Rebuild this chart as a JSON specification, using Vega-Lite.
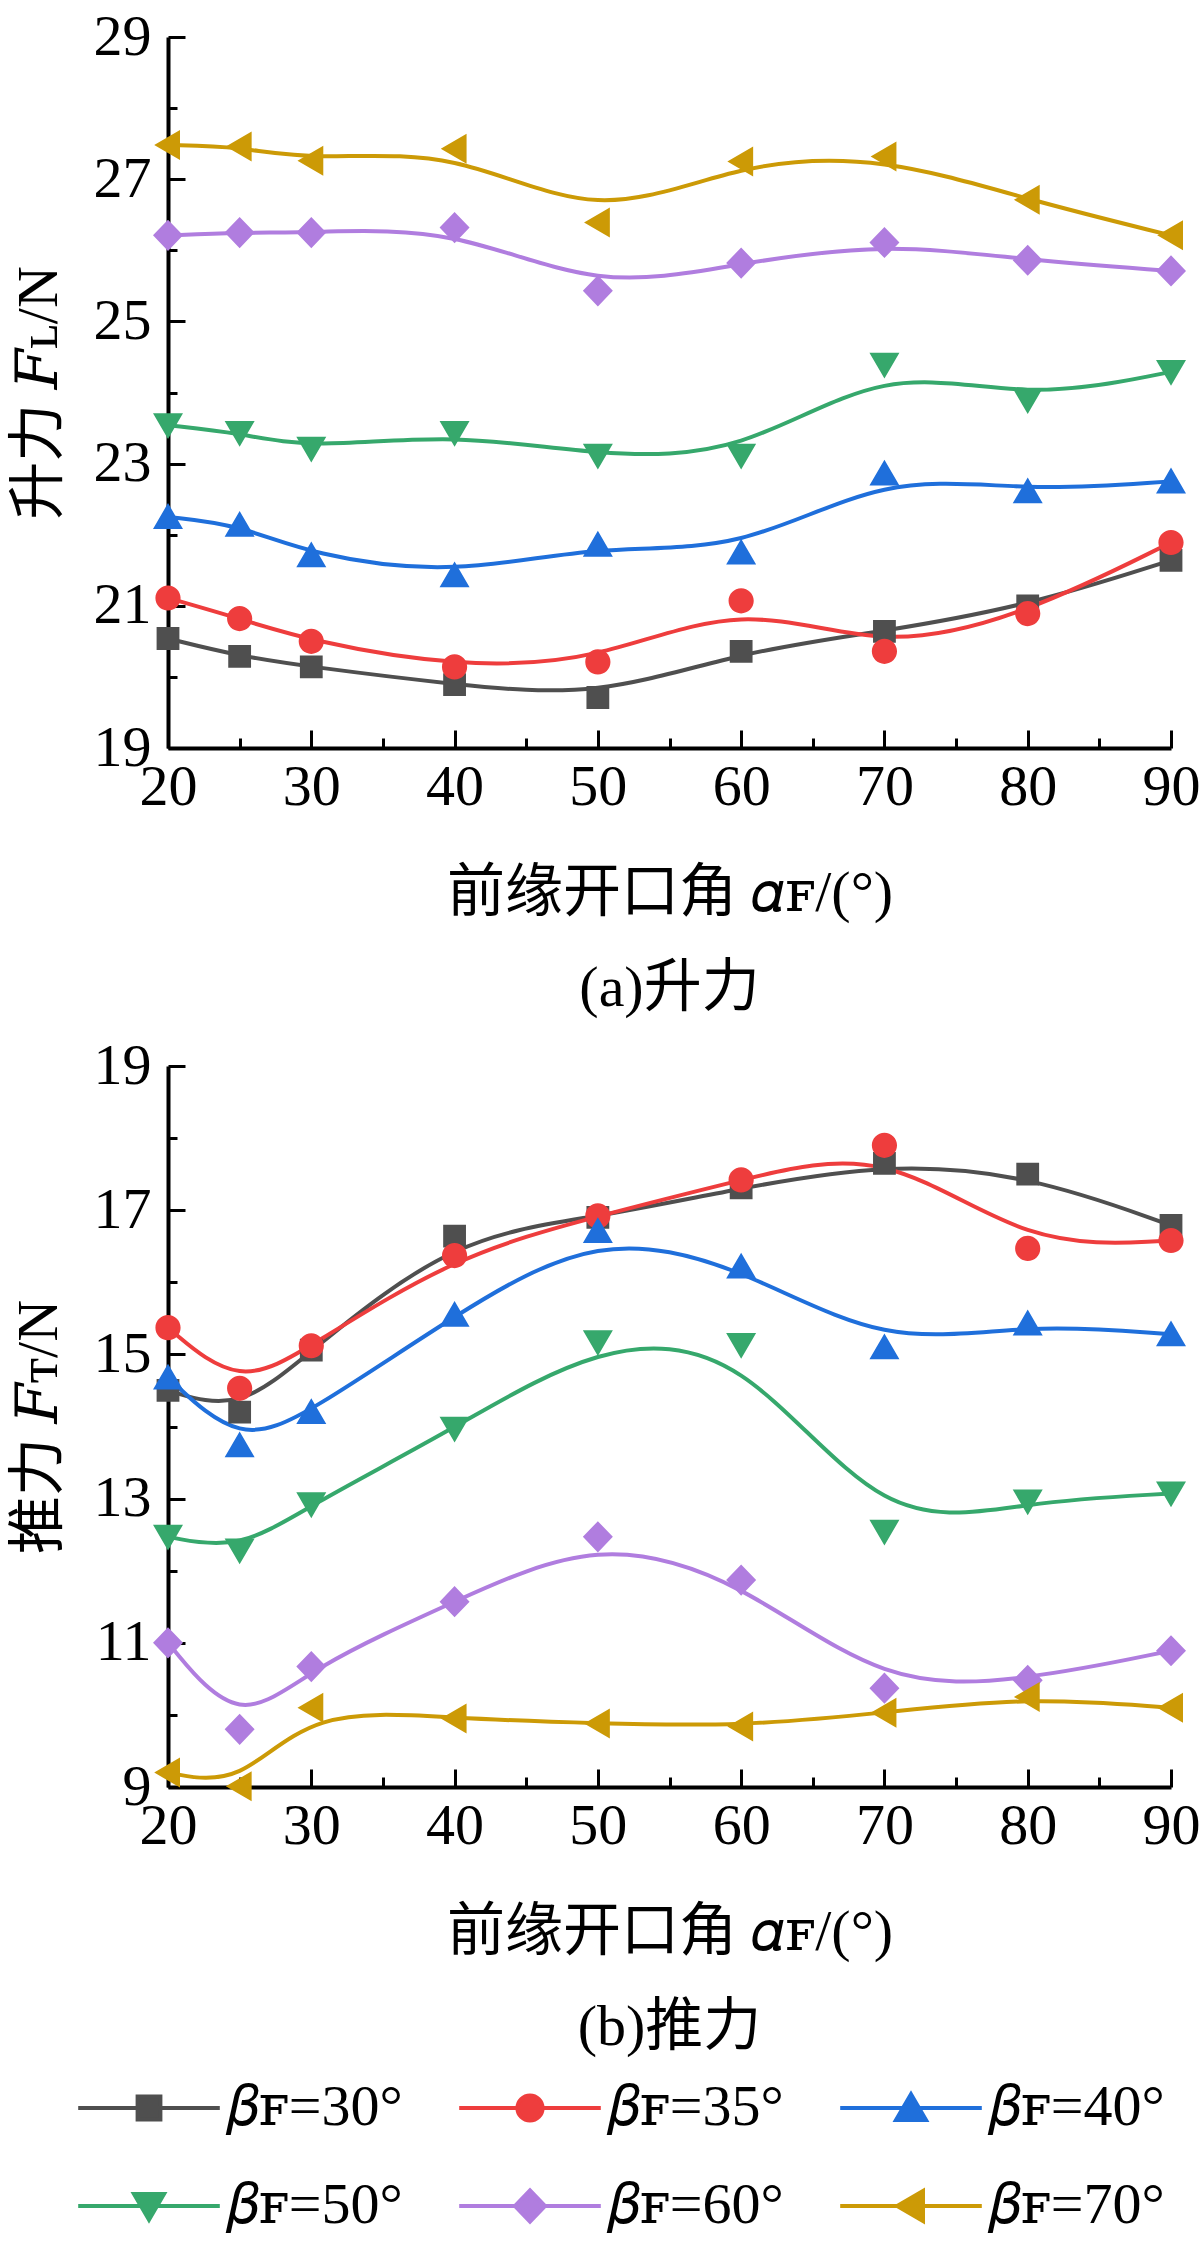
{
  "$schema": "https://vega.github.io/schema/vega-lite/v6.json",
  "padding": {"left": 10, "top": 8, "right": 0, "bottom": 0},
  "background": "white",
  "datasets": {
    "lift": [
      {"a":20,"s":"𝛽ꜰ=30°","v":20.54},{"a":25,"s":"𝛽ꜰ=30°","v":20.29},{"a":30,"s":"𝛽ꜰ=30°","v":20.14},{"a":40,"s":"𝛽ꜰ=30°","v":19.89},{"a":50,"s":"𝛽ꜰ=30°","v":19.71},{"a":60,"s":"𝛽ꜰ=30°","v":20.36},{"a":70,"s":"𝛽ꜰ=30°","v":20.64},{"a":80,"s":"𝛽ꜰ=30°","v":21.0},{"a":90,"s":"𝛽ꜰ=30°","v":21.64},
      {"a":20,"s":"𝛽ꜰ=35°","v":21.11},{"a":25,"s":"𝛽ꜰ=35°","v":20.82},{"a":30,"s":"𝛽ꜰ=35°","v":20.5},{"a":40,"s":"𝛽ꜰ=35°","v":20.14},{"a":50,"s":"𝛽ꜰ=35°","v":20.21},{"a":60,"s":"𝛽ꜰ=35°","v":21.07},{"a":70,"s":"𝛽ꜰ=35°","v":20.36},{"a":80,"s":"𝛽ꜰ=35°","v":20.89},{"a":90,"s":"𝛽ꜰ=35°","v":21.89},
      {"a":20,"s":"𝛽ꜰ=40°","v":22.25},{"a":25,"s":"𝛽ꜰ=40°","v":22.14},{"a":30,"s":"𝛽ꜰ=40°","v":21.71},{"a":40,"s":"𝛽ꜰ=40°","v":21.43},{"a":50,"s":"𝛽ꜰ=40°","v":21.86},{"a":60,"s":"𝛽ꜰ=40°","v":21.75},{"a":70,"s":"𝛽ꜰ=40°","v":22.86},{"a":80,"s":"𝛽ꜰ=40°","v":22.61},{"a":90,"s":"𝛽ꜰ=40°","v":22.75},
      {"a":20,"s":"𝛽ꜰ=50°","v":23.54},{"a":25,"s":"𝛽ꜰ=50°","v":23.43},{"a":30,"s":"𝛽ꜰ=50°","v":23.21},{"a":40,"s":"𝛽ꜰ=50°","v":23.43},{"a":50,"s":"𝛽ꜰ=50°","v":23.11},{"a":60,"s":"𝛽ꜰ=50°","v":23.11},{"a":70,"s":"𝛽ꜰ=50°","v":24.39},{"a":80,"s":"𝛽ꜰ=50°","v":23.89},{"a":90,"s":"𝛽ꜰ=50°","v":24.29},
      {"a":20,"s":"𝛽ꜰ=60°","v":26.21},{"a":25,"s":"𝛽ꜰ=60°","v":26.25},{"a":30,"s":"𝛽ꜰ=60°","v":26.25},{"a":40,"s":"𝛽ꜰ=60°","v":26.32},{"a":50,"s":"𝛽ꜰ=60°","v":25.43},{"a":60,"s":"𝛽ꜰ=60°","v":25.82},{"a":70,"s":"𝛽ꜰ=60°","v":26.11},{"a":80,"s":"𝛽ꜰ=60°","v":25.86},{"a":90,"s":"𝛽ꜰ=60°","v":25.71},
      {"a":20,"s":"𝛽ꜰ=70°","v":27.48},{"a":25,"s":"𝛽ꜰ=70°","v":27.46},{"a":30,"s":"𝛽ꜰ=70°","v":27.26},{"a":40,"s":"𝛽ꜰ=70°","v":27.43},{"a":50,"s":"𝛽ꜰ=70°","v":26.39},{"a":60,"s":"𝛽ꜰ=70°","v":27.25},{"a":70,"s":"𝛽ꜰ=70°","v":27.32},{"a":80,"s":"𝛽ꜰ=70°","v":26.71},{"a":90,"s":"𝛽ꜰ=70°","v":26.21}
    ],
    "thrust": [
      {"a":20,"s":"𝛽ꜰ=30°","v":14.5},{"a":25,"s":"𝛽ꜰ=30°","v":14.2},{"a":30,"s":"𝛽ꜰ=30°","v":15.06},{"a":40,"s":"𝛽ꜰ=30°","v":16.64},{"a":50,"s":"𝛽ꜰ=30°","v":16.9},{"a":60,"s":"𝛽ꜰ=30°","v":17.31},{"a":70,"s":"𝛽ꜰ=30°","v":17.65},{"a":80,"s":"𝛽ꜰ=30°","v":17.5},{"a":90,"s":"𝛽ꜰ=30°","v":16.79},
      {"a":20,"s":"𝛽ꜰ=35°","v":15.37},{"a":25,"s":"𝛽ꜰ=35°","v":14.53},{"a":30,"s":"𝛽ꜰ=35°","v":15.12},{"a":40,"s":"𝛽ꜰ=35°","v":16.37},{"a":50,"s":"𝛽ꜰ=35°","v":16.92},{"a":60,"s":"𝛽ꜰ=35°","v":17.42},{"a":70,"s":"𝛽ꜰ=35°","v":17.9},{"a":80,"s":"𝛽ꜰ=35°","v":16.47},{"a":90,"s":"𝛽ꜰ=35°","v":16.58},
      {"a":20,"s":"𝛽ꜰ=40°","v":14.68},{"a":25,"s":"𝛽ꜰ=40°","v":13.74},{"a":30,"s":"𝛽ꜰ=40°","v":14.2},{"a":40,"s":"𝛽ꜰ=40°","v":15.55},{"a":50,"s":"𝛽ꜰ=40°","v":16.71},{"a":60,"s":"𝛽ꜰ=40°","v":16.22},{"a":70,"s":"𝛽ꜰ=40°","v":15.1},{"a":80,"s":"𝛽ꜰ=40°","v":15.43},{"a":90,"s":"𝛽ꜰ=40°","v":15.28},
      {"a":20,"s":"𝛽ꜰ=50°","v":12.47},{"a":25,"s":"𝛽ꜰ=50°","v":12.28},{"a":30,"s":"𝛽ꜰ=50°","v":12.92},{"a":40,"s":"𝛽ꜰ=50°","v":13.97},{"a":50,"s":"𝛽ꜰ=50°","v":15.17},{"a":60,"s":"𝛽ꜰ=50°","v":15.13},{"a":70,"s":"𝛽ꜰ=50°","v":12.54},{"a":80,"s":"𝛽ꜰ=50°","v":12.96},{"a":90,"s":"𝛽ꜰ=50°","v":13.07},
      {"a":20,"s":"𝛽ꜰ=60°","v":11.0},{"a":25,"s":"𝛽ꜰ=60°","v":9.8},{"a":30,"s":"𝛽ꜰ=60°","v":10.67},{"a":40,"s":"𝛽ꜰ=60°","v":11.57},{"a":50,"s":"𝛽ꜰ=60°","v":12.47},{"a":60,"s":"𝛽ꜰ=60°","v":11.87},{"a":70,"s":"𝛽ꜰ=60°","v":10.37},{"a":80,"s":"𝛽ꜰ=60°","v":10.48},{"a":90,"s":"𝛽ꜰ=60°","v":10.89},
      {"a":20,"s":"𝛽ꜰ=70°","v":9.2},{"a":25,"s":"𝛽ꜰ=70°","v":9.01},{"a":30,"s":"𝛽ꜰ=70°","v":10.1},{"a":40,"s":"𝛽ꜰ=70°","v":9.95},{"a":50,"s":"𝛽ꜰ=70°","v":9.88},{"a":60,"s":"𝛽ꜰ=70°","v":9.84},{"a":70,"s":"𝛽ꜰ=70°","v":10.03},{"a":80,"s":"𝛽ꜰ=70°","v":10.25},{"a":90,"s":"𝛽ꜰ=70°","v":10.1}
    ]
  },
  "config": {
    "font": "Liberation Serif, DejaVu Serif, Noto Sans CJK SC",
    "view": {"stroke": null},
    "axis": {
      "grid": false,
      "domainColor": "black",
      "domainWidth": 4,
      "tickColor": "black",
      "tickWidth": 3,
      "labelFont": "Liberation Serif",
      "labelFontSize": 58,
      "labelColor": "black",
      "labelFlush": false,
      "labelOverlap": false,
      "titleFont": "Liberation Serif, DejaVu Serif, Noto Sans CJK SC",
      "titleFontSize": 58,
      "titleFontWeight": "normal",
      "titleColor": "black"
    },
    "axisX": {"labelPadding": 28, "titlePadding": 40},
    "axisY": {"labelPadding": 34, "titlePadding": 25},
    "legend": {"labelFont": "Liberation Serif, DejaVu Serif", "labelFontSize": 58, "labelColor": "black"},
    "title": {"font": "Liberation Serif, Noto Sans CJK SC", "fontSize": 58, "fontWeight": "normal", "color": "black"}
  },
  "bounds": "flush",
  "spacing": 318,
  "resolve": {"scale": {"color": "shared", "shape": "shared"}, "legend": {"color": "shared", "shape": "shared"}},
  "vconcat": [
    {
      "width": 1003,
      "height": 711,
      "title": {"text": "(a)升力", "orient": "bottom", "offset": 38},
      "data": {"name": "lift"},
      "encoding": {
        "x": {"field": "a", "type": "quantitative", "scale": {"domain": [20, 90], "nice": false, "zero": false},
          "axis": {"title": "前缘开口角 𝛼ꜰ/(°)", "values": [20,25,30,35,40,45,50,55,60,65,70,75,80,85,90],
            "labelExpr": "datum.value % 10 === 0 ? datum.label : ''",
            "tickSize": {"condition": {"test": "datum.value % 10 === 0", "value": -18}, "value": -10}}},
        "y": {"field": "v", "type": "quantitative", "scale": {"domain": [19, 29], "nice": false, "zero": false},
          "axis": {"title": "升力 𝐹ʟ/N", "values": [19,20,21,22,23,24,25,26,27,28,29],
            "labelExpr": "datum.value % 2 === 1 ? datum.label : ''",
            "tickSize": {"condition": {"test": "datum.value % 2 === 1", "value": -17}, "value": -9}}},
        "color": {"field": "s", "type": "nominal",
          "scale": {"domain": ["𝛽ꜰ=30°","𝛽ꜰ=35°","𝛽ꜰ=40°","𝛽ꜰ=50°","𝛽ꜰ=60°","𝛽ꜰ=70°"], "range": ["#4f4f4f","#ee3d3d","#1f6fdb","#36a86c","#b07ddf","#cc9a06"]},
          "legend": {"title": null, "orient": "none", "legendX": -108, "legendY": 2042, "columns": 3, "direction": "horizontal", "gridAlign": "all",
            "labelFont": "Liberation Serif, DejaVu Serif", "labelFontSize": 58, "labelColor": "black", "labelLimit": 400,
            "symbolOffset": 60, "labelOffset": 49, "columnPadding": 38, "rowPadding": 40, "symbolStrokeWidth": 4, "symbolSize": 576,
            "encode": {"symbols": {"update": {"stroke": {"scale": "color", "field": "value"}, "strokeWidth": {"value": 4}}}}}}
      },
      "layer": [
        {"mark": {"type": "line", "interpolate": "basis", "strokeWidth": 4}},
        {"mark": {"type": "point", "filled": true, "size": 576, "opacity": 1, "strokeWidth": 0},
          "encoding": {
            "shape": {"field": "s", "type": "nominal",
              "scale": {"domain": ["𝛽ꜰ=30°","𝛽ꜰ=35°","𝛽ꜰ=40°","𝛽ꜰ=50°","𝛽ꜰ=60°","𝛽ꜰ=70°"],
                "range": ["M-5.9,0H5.9M-0.95,-0.95H0.95V0.95H-0.95Z","M-5.9,0H5.9M-1.05,0A1.05,1.05,0,1,1,1.05,0A1.05,1.05,0,1,1,-1.05,0Z","M-5.9,0H5.9M0,-1.15L1.25,1L-1.25,1Z","M-5.9,0H5.9M0,1.15L1.25,-1L-1.25,-1Z","M-5.9,0H5.9M0,-1.3L1.25,0L0,1.3L-1.25,0Z","M-5.9,0H5.9M-1.15,0L1,-1.25L1,1.25Z"]},
              "legend": {"title": null, "orient": "none", "legendX": -108, "legendY": 2042, "columns": 3, "direction": "horizontal", "gridAlign": "all",
                "labelFont": "Liberation Serif, DejaVu Serif", "labelFontSize": 58, "labelColor": "black", "labelLimit": 400,
                "symbolOffset": 60, "labelOffset": 49, "columnPadding": 38, "rowPadding": 40, "symbolStrokeWidth": 4, "symbolSize": 576}}
          }}
      ]
    },
    {
      "width": 1003,
      "height": 721,
      "title": {"text": "(b)推力", "orient": "bottom", "offset": 38},
      "data": {"name": "thrust"},
      "encoding": {
        "x": {"field": "a", "type": "quantitative", "scale": {"domain": [20, 90], "nice": false, "zero": false},
          "axis": {"title": "前缘开口角 𝛼ꜰ/(°)", "values": [20,25,30,35,40,45,50,55,60,65,70,75,80,85,90],
            "labelExpr": "datum.value % 10 === 0 ? datum.label : ''",
            "tickSize": {"condition": {"test": "datum.value % 10 === 0", "value": -18}, "value": -10}}},
        "y": {"field": "v", "type": "quantitative", "scale": {"domain": [9, 19], "nice": false, "zero": false},
          "axis": {"title": "推力 𝐹ᴛ/N", "values": [9,10,11,12,13,14,15,16,17,18,19],
            "labelExpr": "datum.value % 2 === 1 ? datum.label : ''",
            "tickSize": {"condition": {"test": "datum.value % 2 === 1", "value": -17}, "value": -9}}},
        "color": {"field": "s", "type": "nominal",
          "scale": {"domain": ["𝛽ꜰ=30°","𝛽ꜰ=35°","𝛽ꜰ=40°","𝛽ꜰ=50°","𝛽ꜰ=60°","𝛽ꜰ=70°"], "range": ["#4f4f4f","#ee3d3d","#1f6fdb","#36a86c","#b07ddf","#cc9a06"]},
          "legend": {"title": null, "orient": "none", "legendX": -108, "legendY": 2042, "columns": 3, "direction": "horizontal", "gridAlign": "all",
            "labelFont": "Liberation Serif, DejaVu Serif", "labelFontSize": 58, "labelColor": "black", "labelLimit": 400,
            "symbolOffset": 60, "labelOffset": 49, "columnPadding": 38, "rowPadding": 40, "symbolStrokeWidth": 4, "symbolSize": 576,
            "encode": {"symbols": {"update": {"stroke": {"scale": "color", "field": "value"}, "strokeWidth": {"value": 4}}}}}}
      },
      "layer": [
        {"mark": {"type": "line", "interpolate": "basis", "strokeWidth": 4}},
        {"mark": {"type": "point", "filled": true, "size": 576, "opacity": 1, "strokeWidth": 0},
          "encoding": {
            "shape": {"field": "s", "type": "nominal",
              "scale": {"domain": ["𝛽ꜰ=30°","𝛽ꜰ=35°","𝛽ꜰ=40°","𝛽ꜰ=50°","𝛽ꜰ=60°","𝛽ꜰ=70°"],
                "range": ["M-5.9,0H5.9M-0.95,-0.95H0.95V0.95H-0.95Z","M-5.9,0H5.9M-1.05,0A1.05,1.05,0,1,1,1.05,0A1.05,1.05,0,1,1,-1.05,0Z","M-5.9,0H5.9M0,-1.15L1.25,1L-1.25,1Z","M-5.9,0H5.9M0,1.15L1.25,-1L-1.25,-1Z","M-5.9,0H5.9M0,-1.3L1.25,0L0,1.3L-1.25,0Z","M-5.9,0H5.9M-1.15,0L1,-1.25L1,1.25Z"]},
              "legend": {"title": null, "orient": "none", "legendX": -108, "legendY": 2042, "columns": 3, "direction": "horizontal", "gridAlign": "all",
                "labelFont": "Liberation Serif, DejaVu Serif", "labelFontSize": 58, "labelColor": "black", "labelLimit": 400,
                "symbolOffset": 60, "labelOffset": 49, "columnPadding": 38, "rowPadding": 40, "symbolStrokeWidth": 4, "symbolSize": 576}}
          }}
      ]
    }
  ]
}
